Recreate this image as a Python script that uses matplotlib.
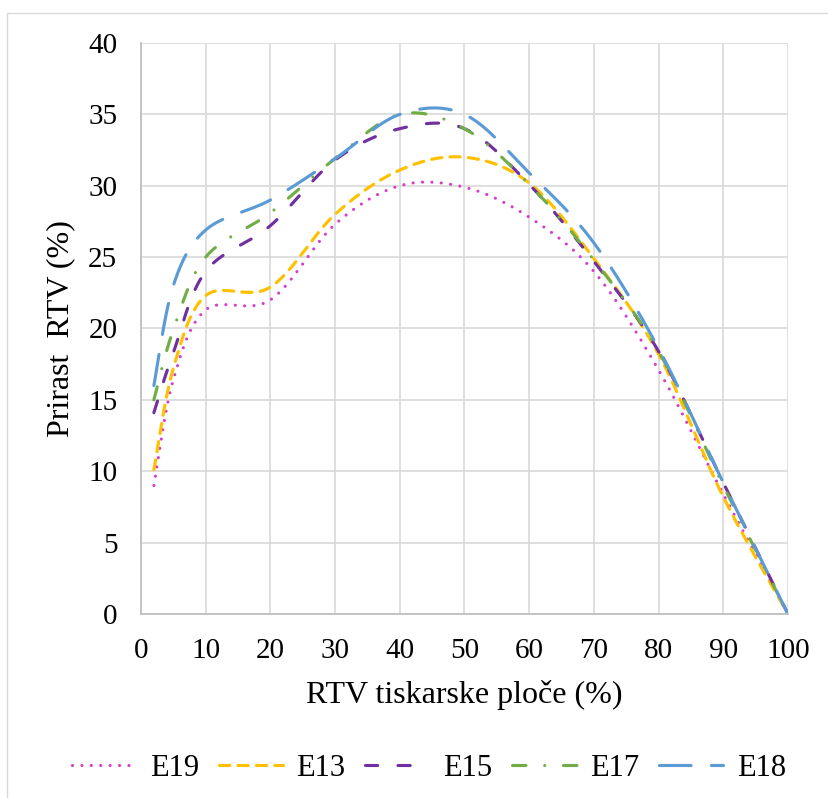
import numpy as np
import matplotlib
matplotlib.use('Agg')
from matplotlib import pyplot as plt
from matplotlib.patches import Rectangle

plt.rcParams['font.family'] = ['Liberation Serif', 'DejaVu Serif']

# podaci ocitani s grafa
x = [2, 5, 10, 20, 30, 40, 50, 60, 70, 80, 90, 100]
e19 = [9.0, 16.4, 21.3, 22.0, 27.3, 30.0, 29.9, 27.8, 24.0, 17.1, 8.4, 0]
e13 = [10.1, 17.2, 22.3, 22.9, 28.0, 31.1, 32.0, 30.2, 24.9, 18.2, 8.2, 0]
e15 = [14.1, 18.3, 24.0, 27.2, 31.8, 34.0, 34.0, 30.1, 24.7, 18.4, 9.2, 0]
e17 = [15.0, 19.9, 25.0, 28.1, 31.9, 35.0, 34.0, 30.1, 24.8, 18.4, 9.0, 0]
e18 = [16.0, 23.0, 26.9, 29.0, 31.9, 35.0, 35.0, 30.9, 26.0, 18.6, 9.2, 0]
names = ['E19', 'E13', 'E15', 'E17', 'E18']
colors = ['#D63BCB', '#FFC000', '#7030A0', '#70AD47', '#5B9BD5']
styles = [(0, (0.01, 3.0)), (0, (3.3, 2.6)), (0, (3.9, 6.5)),
          (0, (4.3, 6.0, 0.01, 6.0)), (0, (10.1, 6.5))]


def smooth(xs, ys, n=30):
    # glatke linije kao u Excelu (Catmull-Rom / Bezier)
    p = np.column_stack([xs, ys]).astype(float)
    p = np.vstack([p[0], p, p[-1]])
    t = np.linspace(0, 1, n)[:, None]
    out = []
    for i in range(1, len(p) - 2):
        p0, p1, p2, p3 = p[i - 1], p[i], p[i + 1], p[i + 2]
        c1 = p1 + (p2 - p0) / 6
        c2 = p2 - (p3 - p1) / 6
        seg = (1 - t)**3 * p1 + 3 * (1 - t)**2 * t * c1 + 3 * (1 - t) * t**2 * c2 + t**3 * p2
        out.append(seg if i == 1 else seg[1:])
    return np.vstack(out)


fig = plt.figure(figsize=(8.29, 7.98), dpi=100)
fig.patches.append(Rectangle((0.0084, -0.05), 1.1, 0.9837 + 0.05, transform=fig.transFigure,
                             fill=False, edgecolor='#D9D9D9', lw=1.0))
ax = fig.add_axes([0.170, 0.2306, 0.7805, 0.7155])

for ys, nm, c, ls in zip([e19, e13, e15, e17, e18], names, colors, styles):
    s = smooth(x, ys)
    ax.plot(s[:, 0], s[:, 1], color=c, lw=2.25, linestyle=ls,
            dash_capstyle='round', label=nm)

ax.set_xlim(0, 100)
ax.set_ylim(0, 40)
ax.set_xticks(np.arange(0, 101, 10))
ax.set_yticks(np.arange(0, 41, 5))
ax.grid(True, color='#D9D9D9', lw=1.2)
ax.set_axisbelow(True)
for s in ['top', 'right']:
    ax.spines[s].set_visible(False)
for s in ['left', 'bottom']:
    ax.spines[s].set_color('#BFBFBF')
    ax.spines[s].set_linewidth(1.3)
ax.tick_params(axis='both', length=0, labelsize=21, colors='black')
ax.tick_params(axis='x', pad=17)
ax.tick_params(axis='y', pad=17)
ax.set_xlabel('RTV tiskarske ploče (%)', fontsize=23, labelpad=12)
ax.set_ylabel('Prirast  RTV (%)', fontsize=23, labelpad=9)

fig.legend(loc='center', bbox_to_anchor=(429 / 829, 1 - 768 / 798), ncol=5,
           frameon=False, fontsize=22, handlelength=2.1, handletextpad=0.45,
           columnspacing=0.65)

fig.savefig('out.png', dpi=100)
